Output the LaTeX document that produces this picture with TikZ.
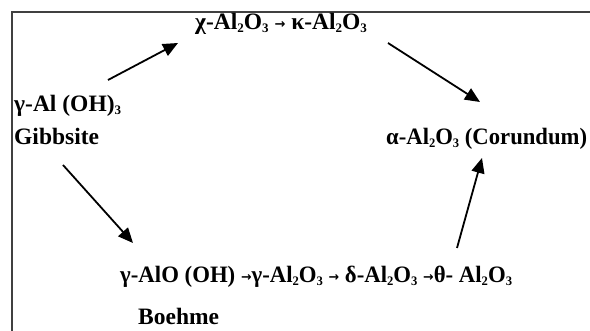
\documentclass[tikz,border=0pt]{standalone}
\usepackage{fontspec}
\setmainfont{Liberation Serif}
\newfontfamily\arrfont{DejaVu Sans}
\usetikzlibrary{arrows.meta}
\newcommand{\subx}[1]{\raisebox{-0.12em}{\fontsize{13}{13}\selectfont #1}}
\newcommand{\rarr}{\raisebox{0.05em}{\arrfont\fontsize{13}{13}\selectfont →}}
\begin{document}
\begin{tikzpicture}[x=1pt,y=-1pt,
  lbl/.style={inner sep=0pt, anchor=base west, font=\fontsize{23.5}{28}\selectfont\bfseries},
  conn/.style={line width=1.8pt, -{Triangle[length=15pt,width=13pt]}}]
\useasboundingbox (0,0) rectangle (590,331);
\draw[line width=1.8pt, draw=black!75] (12,331) -- (12,12) -- (590,12);
\node[lbl] (top) at (195,30) {χ-Al\subx{2}O\subx{3} \rarr{} κ-Al\subx{2}O\subx{3}};
\node[lbl] (gam) at (14,112) {γ-Al (OH)\subx{3}};
\node[lbl] (gib) at (14,145) {Gibbsite};
\node[lbl] (alpha) at (386,145) {\scalebox{0.965}[1]{α-Al\subx{2}O\subx{3} (Corundum)}};
\node[lbl] (bot) at (120,283) {\scalebox{0.97}[1]{γ-AlO (OH) \rarr γ-Al\subx{2}O\subx{3} \rarr{} δ-Al\subx{2}O\subx{3} \rarr θ- Al\subx{2}O\subx{3}}};
\node[lbl] (boe) at (138,325) {Boehme};
\coordinate (a1s) at (108,80); \coordinate (a1e) at (178,43);
\coordinate (a2s) at (388,43); \coordinate (a2e) at (480,102);
\coordinate (a3s) at (63,165); \coordinate (a3e) at (133,243);
\coordinate (a4s) at (457,248); \coordinate (a4e) at (482,158);
\draw[conn] (a1s) -- (a1e);
\draw[conn] (a2s) -- (a2e);
\draw[conn] (a3s) -- (a3e);
\draw[conn] (a4s) -- (a4e);
\end{tikzpicture}
\end{document}
